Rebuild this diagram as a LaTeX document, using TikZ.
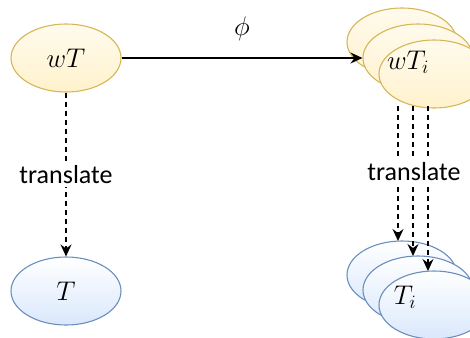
\documentclass[tikz,border=0pt]{standalone}
\usepackage{fix-cm}
\usepackage{fontspec}
\setsansfont{Carlito}
\usetikzlibrary{shapes.geometric,arrows.meta}
\definecolor{yellfill}{HTML}{FFF2CC}
\definecolor{yelldraw}{HTML}{D6B656}
\definecolor{blufill}{HTML}{DAE8FC}
\definecolor{bludraw}{HTML}{6C8EBF}

\begin{document}
\begin{tikzpicture}[x=1pt,y=-1pt,thick,
	every node/.style={inner sep=0pt,font=\fontsize{27}{32}\selectfont},
	yell/.style={shape=ellipse,draw=yelldraw,line width=1.1pt,
		minimum width=110pt,minimum height=68pt,
		top color=yellfill!35,bottom color=yellfill},
	blu/.style={shape=ellipse,draw=bludraw,line width=1.1pt,
		minimum width=110pt,minimum height=68pt,
		top color=white,bottom color=blufill},
	tip/.style={-{Stealth[length=12pt,width=11pt,inset=4pt]},line width=1.3pt},
	trans/.style={tip,dash pattern=on 5pt off 4pt},
	lbl/.style={fill=white,inner sep=3pt,font=\sffamily\fontsize{26}{30}\selectfont}]
	\useasboundingbox (0,0) rectangle (470,337);
		% left side
		\node[yell] (wT) at (66,58) {$wT$};
		\node[blu] (T) at (66,291) {$T$};
		\draw[trans] (wT) -- node[lbl] {translate} (T);
		% right side, stacked copies
		\node[yell] (wTa) at (402,42) {};
		\node[yell] (wTb) at (418,58) {};
		\node[yell] (wTc) at (434,74) {};
		\node at (408,62) {$wT_i$};
		\node[blu] (Ta) at (402,275) {};
		\node[blu] (Tb) at (418,290) {};
		\node[blu] (Tc) at (434,305) {};
		\node at (405,297) {$T_i$};
		\draw[tip] (wT) -- node[above=17pt] {$\phi$} (wTb);
		\draw[trans] (398,106) -- (398,241);
		\draw[trans] (413,106) -- (413,256);
		\draw[trans] (428,106) -- (428,271);
		\node[lbl] (tr) at (414,172) {translate};
	\end{tikzpicture}
\end{document}
